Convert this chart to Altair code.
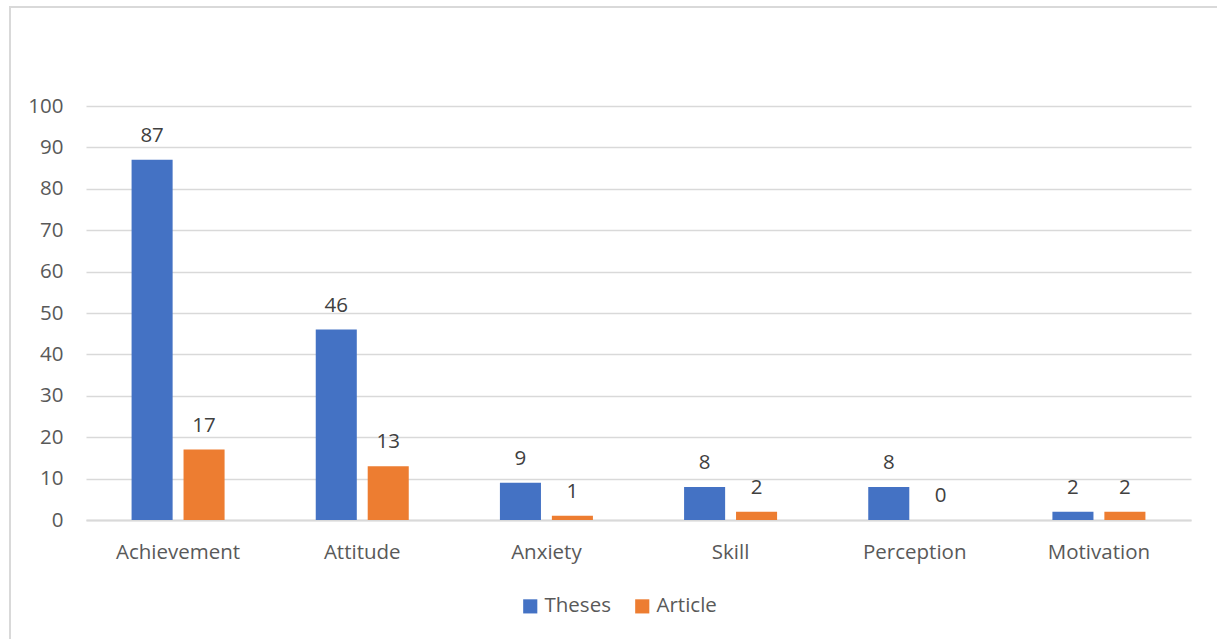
import altair as alt
import pandas as pd

categories = ["Achievement", "Attitude", "Anxiety", "Skill", "Perception", "Motivation"]
theses = [87, 46, 9, 8, 8, 2]
article = [17, 13, 1, 2, 0, 2]
series = ["Theses", "Article"]
colors = ["#4472C4", "#ED7D31"]

rows = []
for c, t, a in zip(categories, theses, article):
    rows.append({"category": c, "series": "Theses", "value": t})
    rows.append({"category": c, "series": "Article", "value": a})
df = pd.DataFrame(rows)

FONT = "Open Sans"
FS = 20.5

x = alt.X("category:N", sort=categories, title=None,
          scale=alt.Scale(paddingInner=0.495, paddingOuter=0.2475),
          axis=alt.Axis(labelAngle=0, labelFontSize=FS, labelColor="#595959",
                        labelFont=FONT, ticks=False, domainColor="#D9D9D9",
                        domainWidth=2, labelPadding=22))
y = alt.Y("value:Q", title=None,
          scale=alt.Scale(domain=[0, 100]),
          axis=alt.Axis(values=list(range(0, 101, 10)), labelFontSize=FS,
                        labelColor="#595959", labelFont=FONT, ticks=False,
                        domain=False, gridColor="#D9D9D9", gridWidth=1.5,
                        labelPadding=23))
xo = alt.XOffset("series:N", sort=series,
                 scale=alt.Scale(paddingInner=0.21, paddingOuter=0))
color = alt.Color("series:N", sort=series,
                  scale=alt.Scale(domain=series, range=colors),
                  legend=alt.Legend(title=None, orient="none", direction="horizontal",
                                    legendX=434, legendY=490, symbolType="square",
                                    symbolSize=200, symbolStrokeWidth=0,
                                    labelFontSize=FS, labelColor="#595959",
                                    labelFont=FONT, columnPadding=21, labelOffset=4))

bars = alt.Chart(df).mark_bar().encode(x=x, y=y, xOffset=xo, color=color)
labels = alt.Chart(df).mark_text(baseline="middle", dy=-24, fontSize=FS,
                                 color="#404040", font=FONT).encode(
    x=x, y=y, xOffset=xo, text="value:Q")

frame = alt.Chart(df).mark_rect(fill=None, stroke="#D9D9D9", strokeWidth=1.5).encode(
    x=alt.value(-76), x2=alt.value(1150), y=alt.value(-99), y2=alt.value(560))

chart = alt.layer(frame, bars, labels).properties(
    width=1105, height=414,
    autosize=alt.AutoSizeParams(type="none"),
    padding={"left": 86, "top": 106, "right": 26, "bottom": 119},
    background="white",
).configure_view(stroke=None)

chart.save("out.html", embed_options={"renderer": "svg", "actions": False})
